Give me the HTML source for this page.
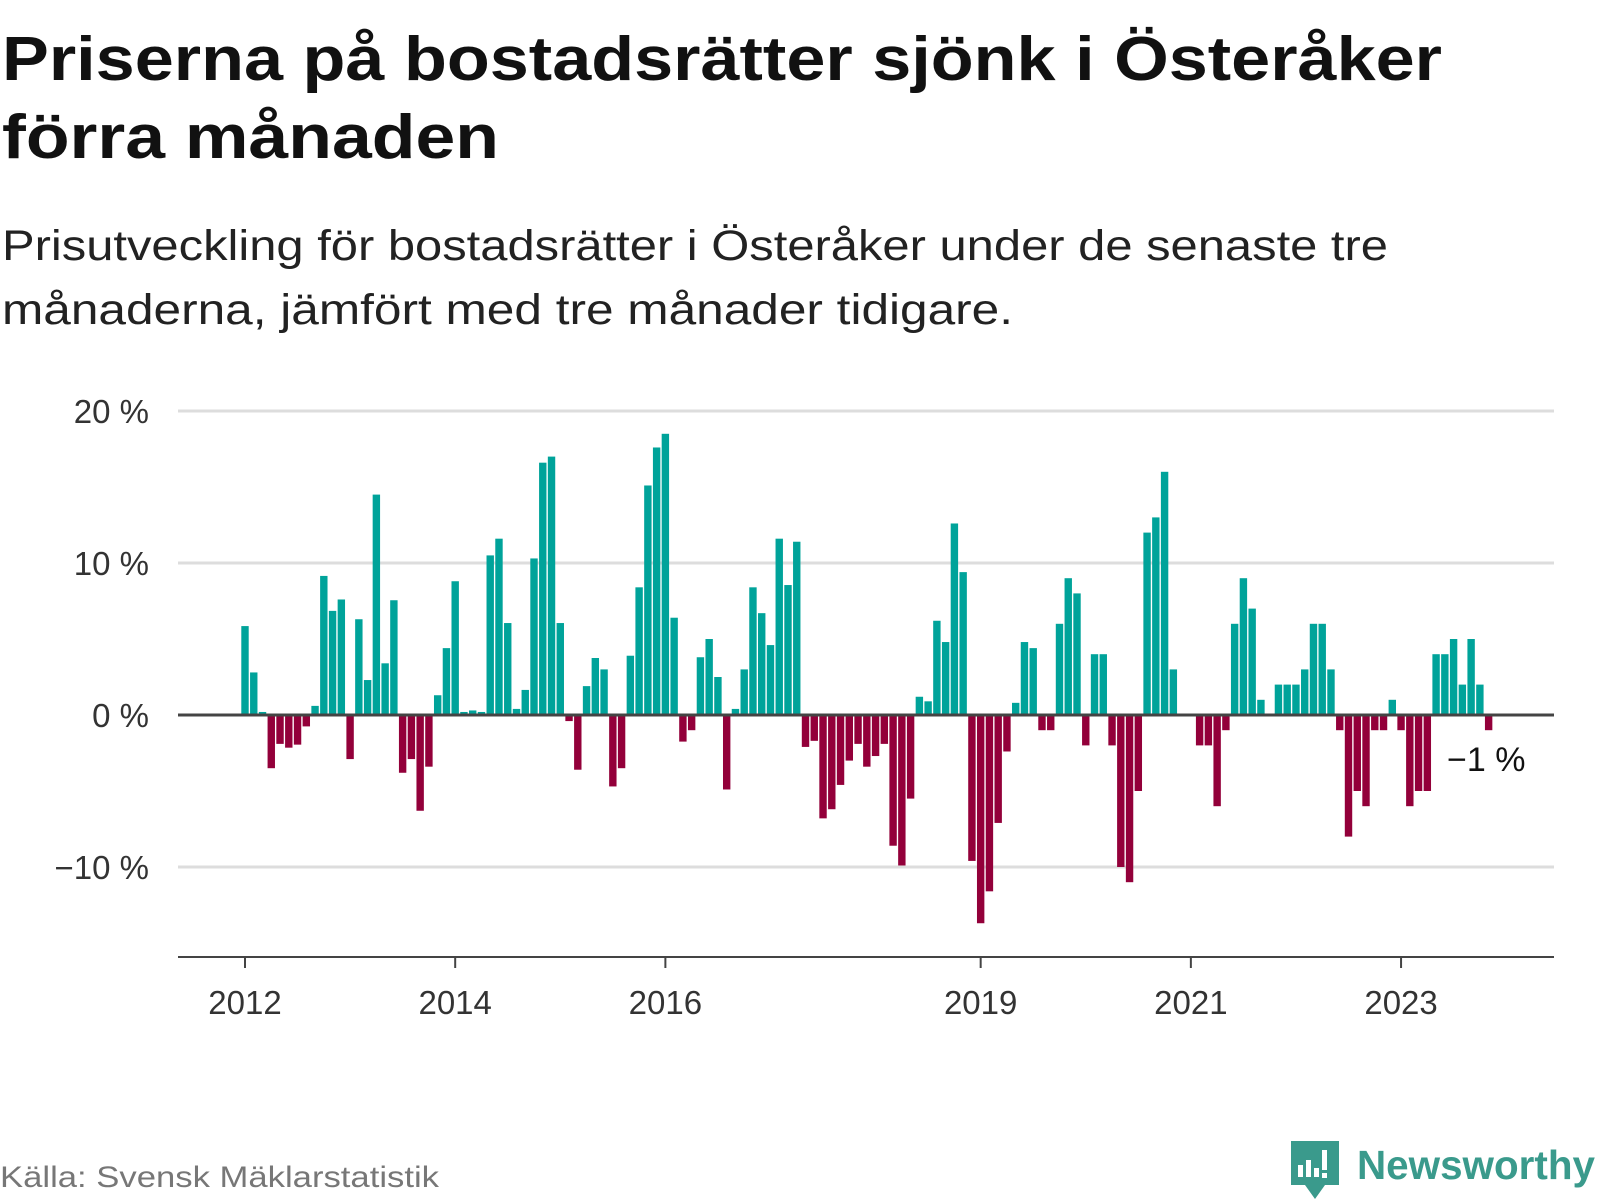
<!DOCTYPE html>
<html><head><meta charset="utf-8">
<style>
html,body{margin:0;padding:0;background:#fff;}
svg{display:block;font-family:"Liberation Sans","DejaVu Sans",sans-serif;}
</style></head>
<body>
<svg id="chart" width="1600" height="1200" viewBox="0 0 1600 1200">
  <text x="2" y="80" font-size="62" font-weight="bold" fill="#111" textLength="1440" lengthAdjust="spacingAndGlyphs">Priserna på bostadsrätter sjönk i Österåker</text>
  <text x="2" y="158" font-size="62" font-weight="bold" fill="#111" textLength="497" lengthAdjust="spacingAndGlyphs">förra månaden</text>
  <text x="2" y="260" font-size="43" fill="#222" textLength="1386" lengthAdjust="spacingAndGlyphs">Prisutveckling för bostadsrätter i Österåker under de senaste tre</text>
  <text x="2" y="324" font-size="43" fill="#222" textLength="1011" lengthAdjust="spacingAndGlyphs">månaderna, jämfört med tre månader tidigare.</text>
  <g id="grid"></g>
  <g id="ylabels"></g>
  <g id="bars"></g>
  <g id="xaxis"></g>
  <text x="1447" y="771" font-size="34" fill="#111">−1 %</text>
  <text x="0" y="1187" font-size="30" fill="#777" textLength="439" lengthAdjust="spacingAndGlyphs">Källa: Svensk Mäklarstatistik</text>
  <g>
    <path d="M1291 1141 h48 v44 h-14 l-10 14 l-10 -14 h-14 z" fill="#3a9a8c"/>
    <rect x="1298" y="1165" width="5" height="12" fill="#fff"/>
    <rect x="1306" y="1160" width="5" height="17" fill="#fff"/>
    <rect x="1314" y="1168" width="5" height="9" fill="#fff"/>
    <rect x="1322" y="1150" width="5" height="20" fill="#fff"/>
    <rect x="1322" y="1173" width="5" height="5" fill="#fff"/>
    <text x="1357" y="1179" font-size="41" font-weight="bold" fill="#3a9a8c" textLength="238" lengthAdjust="spacingAndGlyphs">Newsworthy</text>
  </g>
</svg>
<script>
const startYear = 2012;
const values = [
 5.85,2.8,0.2,-3.5,-1.9,-2.15,-1.95,-0.75,0.6,9.15,6.85,7.6,
 -2.9,6.3,2.3,14.5,3.4,7.55,-3.8,-2.9,-6.3,-3.4,1.3,4.4,
 8.8,0.2,0.3,0.2,10.5,11.6,6.05,0.4,1.65,10.3,16.6,17.0,
 6.05,-0.4,-3.6,1.9,3.75,3.0,-4.7,-3.5,3.9,8.4,15.1,17.6,
 18.5,6.4,-1.75,-1.0,3.8,5.0,2.5,-4.9,0.4,3.0,8.4,6.7,
 4.6,11.6,8.55,11.4,-2.1,-1.7,-6.8,-6.2,-4.6,-3.0,-1.9,-3.4,
 -2.7,-1.9,-8.6,-9.9,-5.5,1.2,0.9,6.2,4.8,12.6,9.4,-9.6,
 -13.7,-11.6,-7.1,-2.4,0.8,4.8,4.4,-1.0,-1.0,6.0,9.0,8.0,
 -2.0,4.0,4.0,-2.0,-10.0,-11.0,-5.0,12.0,13.0,16.0,3.0,0,
 0,-2.0,-2.0,-6.0,-1.0,6.0,9.0,7.0,1.0,0,2.0,2.0,
 2.0,3.0,6.0,6.0,3.0,-1.0,-8.0,-5.0,-6.0,-1.0,-1.0,1.0,
 -1.0,-6.0,-5.0,-5.0,4.0,4.0,5.0,2.0,5.0,2.0,-1.0
];
const yTicks = [20, 10, 0, -10];
const yTickLabels = ["20 %", "10 %", "0 %", "−10 %"];
const xTickYears = [2012, 2014, 2016, 2019, 2021, 2023];

const NS = "http://www.w3.org/2000/svg";
const x0 = 245, monthW = 8.758;
const xScale = m => x0 + m * monthW;
const yScale = v => 715 - v * 15.2;
const plotL = 178, plotR = 1554;

const grid = document.getElementById('grid');
const ylab = document.getElementById('ylabels');
yTicks.forEach((t, i) => {
  if (t !== 0) {
    const l = document.createElementNS(NS, 'line');
    l.setAttribute('x1', plotL); l.setAttribute('x2', plotR);
    l.setAttribute('y1', yScale(t)); l.setAttribute('y2', yScale(t));
    l.setAttribute('stroke', '#dddddd'); l.setAttribute('stroke-width', '3');
    
    
    grid.appendChild(l);
  }
  const tx = document.createElementNS(NS, 'text');
  tx.setAttribute('x', 149); tx.setAttribute('y', yScale(t) + 12);
  tx.setAttribute('text-anchor', 'end'); tx.setAttribute('font-size', '33');
  tx.setAttribute('fill', '#333');
  tx.textContent = yTickLabels[i];
  
  
  ylab.appendChild(tx);
});

const bars = document.getElementById('bars');
const bw = 7.4;
values.forEach((v, i) => {
  if (v === 0) return;
  const r = document.createElementNS(NS, 'rect');
  const y1 = yScale(Math.max(v, 0)), y2 = yScale(Math.min(v, 0));
  r.setAttribute('x', (xScale(i) - bw / 2).toFixed(2));
  r.setAttribute('y', y1.toFixed(2));
  r.setAttribute('width', bw);
  r.setAttribute('height', (y2 - y1).toFixed(2));
  r.setAttribute('fill', v >= 0 ? '#00a39a' : '#93003a');
  
  
  bars.appendChild(r);
});

const zl = document.createElementNS(NS, 'line');
zl.setAttribute('x1', plotL); zl.setAttribute('x2', plotR);
zl.setAttribute('y1', yScale(0)); zl.setAttribute('y2', yScale(0));
zl.setAttribute('stroke', '#444'); zl.setAttribute('stroke-width', '3');


bars.appendChild(zl);

const xa = document.getElementById('xaxis');
const axY = 957;
const al = document.createElementNS(NS, 'line');
al.setAttribute('x1', plotL); al.setAttribute('x2', plotR);
al.setAttribute('y1', axY); al.setAttribute('y2', axY);
al.setAttribute('stroke', '#444'); al.setAttribute('stroke-width', '2');


xa.appendChild(al);
xTickYears.forEach(yr => {
  const x = xScale((yr - startYear) * 12);
  const t = document.createElementNS(NS, 'line');
  t.setAttribute('x1', x); t.setAttribute('x2', x);
  t.setAttribute('y1', axY); t.setAttribute('y2', axY + 11);
  t.setAttribute('stroke', '#444'); t.setAttribute('stroke-width', '2');
  
  
  xa.appendChild(t);
  const tx = document.createElementNS(NS, 'text');
  tx.setAttribute('x', x); tx.setAttribute('y', 1014);
  tx.setAttribute('text-anchor', 'middle'); tx.setAttribute('font-size', '33');
  tx.setAttribute('fill', '#333');
  tx.textContent = yr;
  
  
  xa.appendChild(tx);
});
</script>
</body></html>
